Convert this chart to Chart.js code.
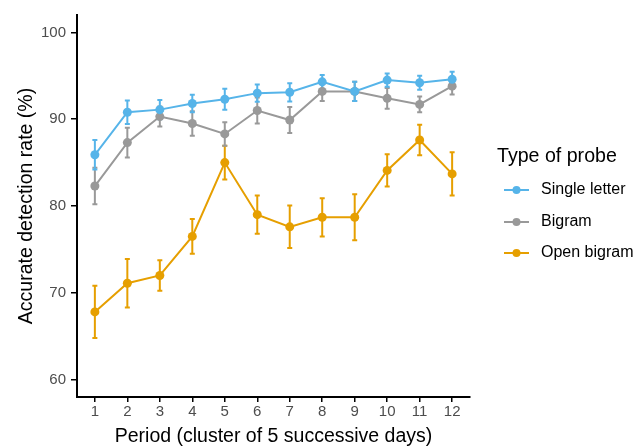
<!DOCTYPE html>
<html>
<head>
<meta charset="utf-8">
<script src="https://cdn.jsdelivr.net/npm/chart.js@4/dist/chart.umd.min.js"></script>
<style>
  html, body { margin: 0; padding: 0; background: #ffffff; }
  #wrap { width: 644px; height: 446px; position: relative; }
</style>
</head>
<body>
<div id="wrap"><canvas id="c" width="644" height="446"></canvas></div>
<script>
const periods = [1, 2, 3, 4, 5, 6, 7, 8, 9, 10, 11, 12];
const yTicks = [60, 70, 80, 90, 100];

const seriesNames = ["Single letter", "Bigram", "Open bigram"];
const seriesColors = ["#56B4E9", "#999999", "#E69F00"];

const singleLetter    = [85.9, 90.8, 91.1, 91.8, 92.3, 93.0, 93.1, 94.3, 93.2, 94.5, 94.2, 94.6];
const singleLetterErr = [1.7, 1.35, 1.1, 1.0, 1.2, 1.0, 1.05, 0.8, 1.1, 0.75, 0.8, 0.85];

const bigram    = [82.3, 87.3, 90.3, 89.5, 88.3, 91.0, 89.9, 93.2, 93.2, 92.4, 91.7, 93.8];
const bigramErr = [2.1, 1.7, 1.15, 1.4, 1.35, 1.5, 1.5, 1.1, 1.1, 1.2, 0.9, 0.95];

const openBigram    = [67.8, 71.1, 72.0, 76.5, 85.0, 79.0, 77.6, 78.7, 78.7, 84.1, 87.6, 83.7];
const openBigramErr = [3.0, 2.8, 1.75, 2.0, 1.95, 2.2, 2.45, 2.2, 2.65, 1.85, 1.75, 2.5];

const allValues = [singleLetter, bigram, openBigram];
const allErrors = [singleLetterErr, bigramErr, openBigramErr];

const FONT = "'Liberation Sans', Arial, Helvetica, sans-serif";

const datasets = seriesNames.map((name, i) => ({
  label: name,
  data: periods.map((p, j) => ({ x: p, y: allValues[i][j] })),
  errors: allErrors[i],
  borderColor: seriesColors[i],
  backgroundColor: seriesColors[i],
  pointBackgroundColor: seriesColors[i],
  pointBorderColor: seriesColors[i],
  pointRadius: 4.5,
  pointBorderWidth: 0,
  borderWidth: 2,
  tension: 0,
  clip: false
}));

const errorBarPlugin = {
  id: 'errorBars',
  beforeDatasetsDraw(chart) {
    const ctx = chart.ctx;
    const xs = chart.scales.x, ys = chart.scales.y;
    for (let d = chart.data.datasets.length - 1; d >= 0; d--) {
      const ds = chart.data.datasets[d];
      ctx.save();
      ctx.strokeStyle = ds.borderColor;
      ctx.lineWidth = 2;
      ds.data.forEach((pt, j) => {
        const e = ds.errors[j];
        const px = xs.getPixelForValue(pt.x);
        const top = ys.getPixelForValue(pt.y + e);
        const bot = ys.getPixelForValue(pt.y - e);
        const cw = 2.5;
        ctx.beginPath();
        ctx.moveTo(px, top); ctx.lineTo(px, bot);
        ctx.moveTo(px - cw, top); ctx.lineTo(px + cw, top);
        ctx.moveTo(px - cw, bot); ctx.lineTo(px + cw, bot);
        ctx.stroke();
      });
      ctx.restore();
    }
  }
};

const legendPlugin = {
  id: 'customLegend',
  afterDraw(chart) {
    const ctx = chart.ctx;
    ctx.save();
    ctx.fillStyle = '#000000';
    ctx.textBaseline = 'middle';
    ctx.textAlign = 'left';
    ctx.font = '19.6px ' + FONT;
    ctx.fillText('Type of probe', 497, 157);
    const rows = [190, 222, 253];
    ctx.font = '16px ' + FONT;
    chart.data.datasets.forEach((ds, i) => {
      const y = rows[i];
      ctx.strokeStyle = ds.borderColor;
      ctx.lineWidth = 2;
      ctx.beginPath();
      ctx.moveTo(504, y); ctx.lineTo(529, y);
      ctx.stroke();
      ctx.fillStyle = ds.borderColor;
      ctx.beginPath();
      ctx.arc(516.5, y, 4, 0, Math.PI * 2);
      ctx.fill();
      ctx.fillStyle = '#000000';
      ctx.fillText(ds.label, 541, y);
    });
    ctx.restore();
  }
};

new Chart(document.getElementById('c'), {
  type: 'line',
  data: { datasets },
  plugins: [errorBarPlugin, legendPlugin],
  options: {
    responsive: false,
    animation: false,
    devicePixelRatio: 1,
    layout: { padding: { top: 15, right: 174, bottom: 0, left: 0 } },
    plugins: { legend: { display: false }, tooltip: { enabled: false } },
    scales: {
      x: {
        type: 'linear',
        min: 0.45,
        max: 12.55,
        afterBuildTicks: axis => { axis.ticks = periods.map(v => ({ value: v })); },
        afterFit: s => { s.height = 49; },
        grid: { display: true, drawOnChartArea: false, drawTicks: true, tickLength: 5, color: '#000000', lineWidth: 1.5 },
        border: { display: true, color: '#000000', width: 2 },
        ticks: { color: '#4D4D4D', font: { family: FONT, size: 15 }, padding: 1, maxRotation: 0, autoSkip: false,
                 callback: v => String(v) },
        title: { display: true, text: 'Period (cluster of 5 successive days)', color: '#000000',
                 font: { family: FONT, size: 19.5 }, padding: { top: 0, bottom: -2 } }
      },
      y: {
        type: 'linear',
        min: 58,
        max: 102,
        afterBuildTicks: axis => { axis.ticks = yTicks.map(v => ({ value: v })); },
        afterFit: s => { s.width = 77; },
        grid: { display: true, drawOnChartArea: false, drawTicks: true, tickLength: 6, color: '#000000', lineWidth: 1.5 },
        border: { display: true, color: '#000000', width: 2 },
        ticks: { color: '#4D4D4D', font: { family: FONT, size: 15 }, padding: 5, callback: v => String(v) },
        title: { display: true, text: 'Accurate detection rate (%)', color: '#000000',
                 font: { family: FONT, size: 19.5 }, padding: { top: 15.3, bottom: 0 } }
      }
    }
  }
});
</script>
</body>
</html>
